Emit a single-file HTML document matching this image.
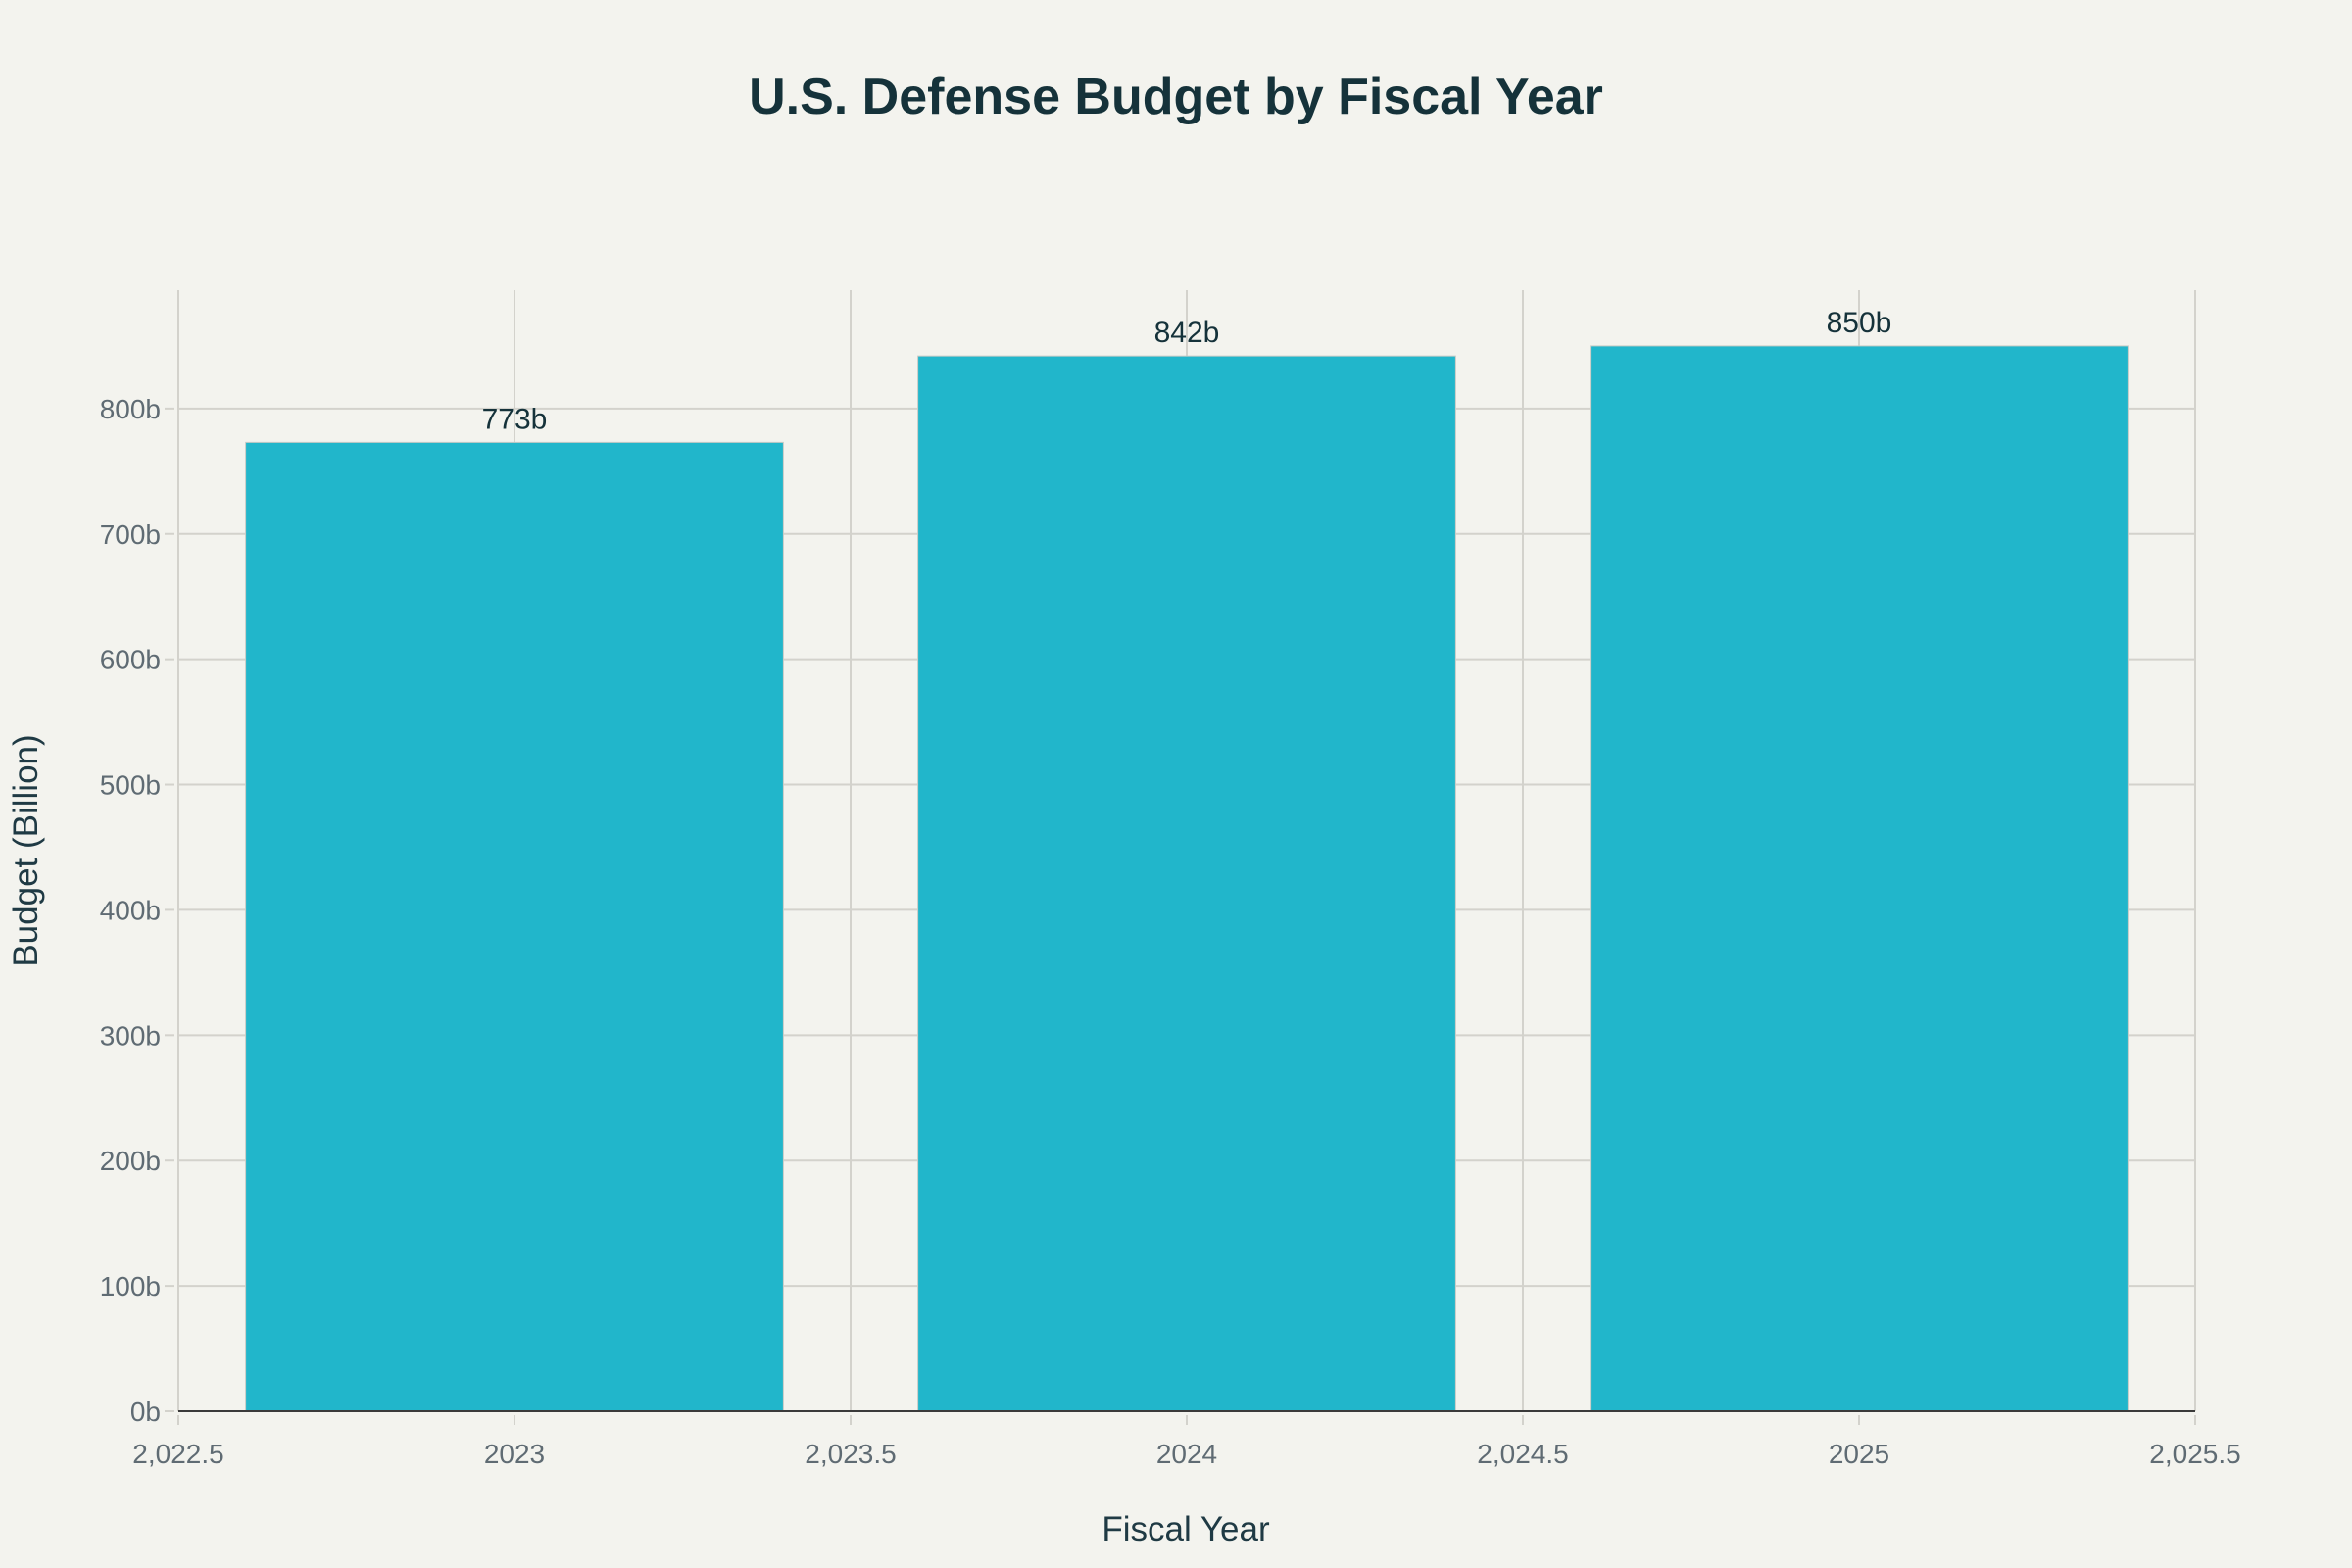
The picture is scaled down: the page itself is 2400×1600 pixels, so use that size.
<!DOCTYPE html>
<html><head><meta charset="utf-8"><style>
html,body{margin:0;padding:0;background:#f3f3ee;}
svg{display:block;font-family:"Liberation Sans",sans-serif;}
</style></head><body>
<svg id="chart" width="2400" height="1600" viewBox="0 0 2400 1600">
<rect width="2400" height="1600" fill="#f3f3ee"/>
<text x="1200" y="116" text-anchor="middle" font-size="52" font-weight="bold" fill="#15323a">U.S. Defense Budget by Fiscal Year</text>
<g id="grid"></g><g id="bars"></g><g id="axes"></g>
<text x="1210" y="1572" text-anchor="middle" font-size="35" fill="#1f3a44">Fiscal Year</text>
<text transform="translate(38,868) rotate(-90)" text-anchor="middle" font-size="35" fill="#1f3a44">Budget (Billion)</text>
</svg>
<script>
const categories = [2023, 2024, 2025];
const values = [773, 842, 850];
const valueLabels = ["773b", "842b", "850b"];
const yTicks = [0, 100, 200, 300, 400, 500, 600, 700, 800];
const yTickLabels = ["0b","100b","200b","300b","400b","500b","600b","700b","800b"];
const xTicks = [2022.5, 2023, 2023.5, 2024, 2024.5, 2025, 2025.5];
const xTickLabels = ["2,022.5","2023","2,023.5","2024","2,024.5","2025","2,025.5"];

const NS = "http://www.w3.org/2000/svg";
const X0 = 182, X1 = 2240, Y0 = 1440, YT = 296;
const xMin = 2022.5, xMax = 2025.5, yMin = 0, yMax = 894.5;
const xs = v => X0 + (v - xMin) / (xMax - xMin) * (X1 - X0);
const ys = v => Y0 - (v - yMin) / (yMax - yMin) * (Y0 - YT);
function mk(tag, attrs, parent, text){
  const e = document.createElementNS(NS, tag);
  for (const k in attrs) e.setAttribute(k, attrs[k]);
  if (text !== undefined) e.textContent = text;
  parent.appendChild(e); return e;
}
const grid = document.getElementById("grid");
const bars = document.getElementById("bars");
const axes = document.getElementById("axes");
yTicks.forEach((t, i) => {
  if (t !== 0) {
    const l = mk("line", {x1: X0, x2: X1, y1: ys(t), y2: ys(t), stroke: "#d3d2cc", "stroke-width": 2}, grid);
    
    
  }
  const tk = mk("line", {x1: X0 - 14, x2: X0 - 4, y1: ys(t), y2: ys(t), stroke: "#d3d2cc", "stroke-width": 2}, axes);
  
  
  const tx = mk("text", {x: X0 - 18, y: ys(t) + 10, "text-anchor": "end", "font-size": 28, fill: "#5f6b73"}, axes, yTickLabels[i]);
  
  
});
xTicks.forEach((t, i) => {
  const l = mk("line", {x1: xs(t), x2: xs(t), y1: YT, y2: Y0, stroke: "#d3d2cc", "stroke-width": 2}, grid);
  
  
  const tk = mk("line", {x1: xs(t), x2: xs(t), y1: Y0 + 4, y2: Y0 + 14, stroke: "#d3d2cc", "stroke-width": 2}, axes);
  
  
  const tx = mk("text", {x: xs(t), y: Y0 + 53, "text-anchor": "middle", "font-size": 28, fill: "#5f6b73"}, axes, xTickLabels[i]);
  
  
});
const bw = 0.8;
categories.forEach((c, i) => {
  const x = xs(c - bw / 2), w = xs(c + bw / 2) - x;
  const r = mk("rect", {x: x, y: ys(values[i]), width: w, height: Y0 - ys(values[i]), fill: "#21b6cb", stroke: "#c8cbc6", "stroke-width": 1}, bars);
  
  
  const t = mk("text", {x: xs(c), y: ys(values[i]) - 14, "text-anchor": "middle", "font-size": 30, fill: "#15323a"}, bars, valueLabels[i]);
  
  
});
const ax = mk("line", {x1: X0, x2: X1, y1: Y0, y2: Y0, stroke: "#3a3a3a", "stroke-width": 2}, axes);


</script>
</body></html>
